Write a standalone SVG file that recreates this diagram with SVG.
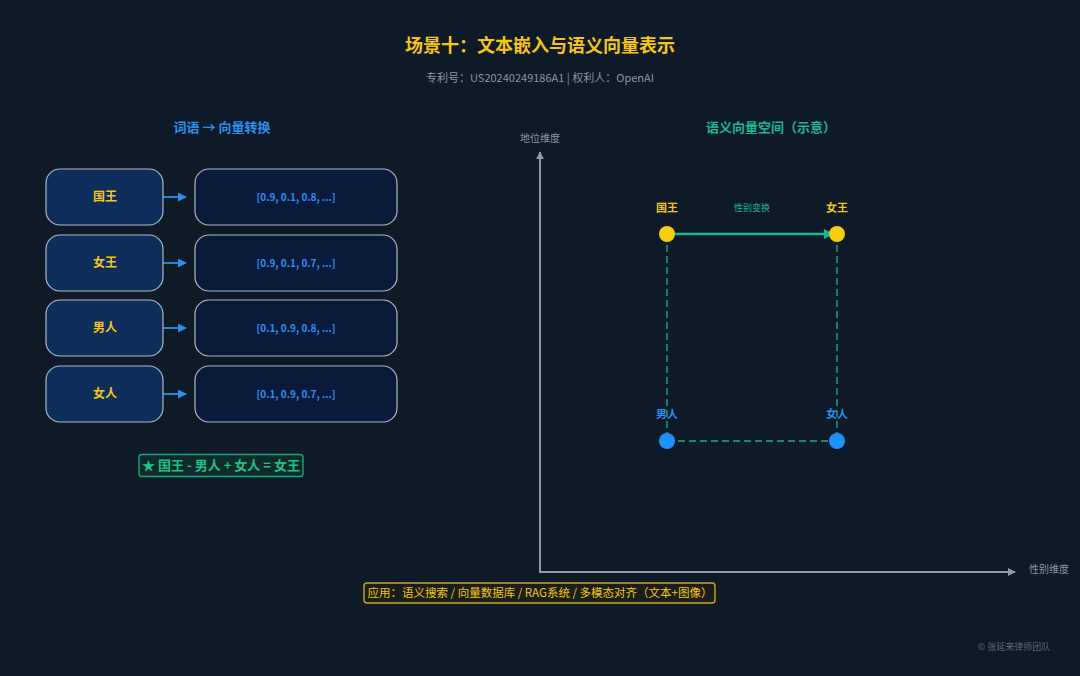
<svg xmlns="http://www.w3.org/2000/svg" width="1080" height="676" viewBox="0 0 1080 676">
<defs>
<style>
text{font-family:"Noto Sans CJK SC","Noto Sans",sans-serif;text-anchor:middle;}
.word{fill:#0d2d5a;stroke:#aab6c4;stroke-width:1.2;}
.vec{fill:#0a1a3a;stroke:#aab6c4;stroke-width:1.2;}
.wt{fill:#f5c518;font-size:12px;font-weight:700;}
.vt{fill:#2a8ff0;font-size:10px;font-weight:700;}
.conn{stroke:#2a8ff0;stroke-width:1.8;fill:none;}
.axis{stroke:#8a9ab0;stroke-width:2;fill:none;}
.dash{stroke:#178a70;stroke-width:1.8;stroke-dasharray:7 4;fill:none;}
.ax{fill:#8a95a5;font-size:10px;}
</style>
<marker id="ab" viewBox="0 0 10 10" refX="9" refY="5" markerWidth="5" markerHeight="5" orient="auto"><path d="M0,0L10,5L0,10z" fill="#2a8ff0"/></marker>
<marker id="ag" viewBox="0 0 10 10" refX="9" refY="5" markerWidth="4" markerHeight="4" orient="auto"><path d="M0,0L10,5L0,10z" fill="#17b890"/></marker>
<marker id="aa" viewBox="0 0 10 10" refX="9" refY="5" markerWidth="4" markerHeight="4" orient="auto"><path d="M0,0L10,5L0,10z" fill="#8a9ab0"/></marker>
</defs>
<rect width="1080" height="676" fill="#0f1a28"/>
<text x="540" y="52" style="fill:#f5c518;font-size:18px;font-weight:700">场景十：文本嵌入与语义向量表示</text>
<text x="540" y="82" style="fill:#8a95a5;font-size:11px">专利号：US20240249186A1 | 权利人：OpenAI</text>
<text x="222" y="132" style="fill:#2a8ff0;font-size:13px;font-weight:700">词语 → 向量转换</text>
<text x="771" y="132" style="fill:#17b890;font-size:13px;font-weight:700">语义向量空间（示意）</text>

<g id="connectors">
<line class="conn" x1="160" y1="197" x2="186" y2="197" marker-end="url(#ab)"/>
<line class="conn" x1="160" y1="263" x2="186" y2="263" marker-end="url(#ab)"/>
<line class="conn" x1="160" y1="328" x2="186" y2="328" marker-end="url(#ab)"/>
<line class="conn" x1="160" y1="394" x2="186" y2="394" marker-end="url(#ab)"/>
<line class="axis" x1="540" y1="572" x2="540" y2="152" marker-end="url(#aa)"/>
<line class="axis" x1="539" y1="572" x2="1015" y2="572" marker-end="url(#aa)"/>
<line class="dash" x1="667" y1="234" x2="667" y2="441"/>
<line class="dash" x1="837" y1="234" x2="837" y2="441"/>
<line class="dash" x1="667" y1="441" x2="837" y2="441"/>
<line x1="667" y1="234" x2="833" y2="234" stroke="#17b890" stroke-width="2.5" marker-end="url(#ag)"/>
</g>

<g id="w1"><rect class="word" x="46" y="169" width="117" height="56" rx="14"/><text class="wt" x="105" y="201">国王</text></g>
<g id="v1"><rect class="vec" x="195" y="169" width="202" height="56" rx="14"/><text class="vt" x="296" y="201">[0.9, 0.1, 0.8, ...]</text></g>
<g id="w2"><rect class="word" x="46" y="235" width="117" height="56" rx="14"/><text class="wt" x="105" y="267">女王</text></g>
<g id="v2"><rect class="vec" x="195" y="235" width="202" height="56" rx="14"/><text class="vt" x="296" y="267">[0.9, 0.1, 0.7, ...]</text></g>
<g id="w3"><rect class="word" x="46" y="300" width="117" height="56" rx="14"/><text class="wt" x="105" y="332">男人</text></g>
<g id="v3"><rect class="vec" x="195" y="300" width="202" height="56" rx="14"/><text class="vt" x="296" y="332">[0.1, 0.9, 0.8, ...]</text></g>
<g id="w4"><rect class="word" x="46" y="366" width="117" height="56" rx="14"/><text class="wt" x="105" y="398">女人</text></g>
<g id="v4"><rect class="vec" x="195" y="366" width="202" height="56" rx="14"/><text class="vt" x="296" y="398">[0.1, 0.9, 0.7, ...]</text></g>

<g id="formula"><rect x="139" y="454.500" width="164" height="22" rx="3" fill="#0f2a2c" stroke="#18a878" stroke-width="1.4"/><text x="221" y="470" style="fill:#20c080;font-size:13px;font-weight:700">★ 国王 - 男人 + 女人 = 女王</text></g>

<text class="ax" x="540" y="142">地位维度</text>
<text class="ax" x="1049" y="573">性别维度</text>

<g id="p-king"><circle cx="667" cy="234" r="8" fill="#f5d00a"/><text x="667" y="212" style="fill:#f5c518;font-size:11px;font-weight:700">国王</text></g>
<g id="p-queen"><circle cx="837" cy="234" r="8" fill="#f5d00a"/><text x="837" y="212" style="fill:#f5c518;font-size:11px;font-weight:700">女王</text></g>
<g id="p-man"><circle cx="667" cy="441" r="8" fill="#1e90ff"/><text x="667" y="418" style="fill:#2a8ff0;font-size:11px;font-weight:700">男人</text></g>
<g id="p-woman"><circle cx="837" cy="441" r="8" fill="#1e90ff"/><text x="837" y="418" style="fill:#2a8ff0;font-size:11px;font-weight:700">女人</text></g>
<text x="752" y="211" style="fill:#17b890;font-size:9px">性别变换</text>

<g id="app"><rect x="364" y="583" width="351" height="20" rx="3" fill="#1a1e18" stroke="#c8a818" stroke-width="1.4"/><text x="540" y="597" style="fill:#f5c518;font-size:11.5px">应用：语义搜索 / 向量数据库 / RAG系统 / 多模态对齐（文本+图像）</text></g>
<text x="1014" y="650" style="fill:#5a6678;font-size:9px">© 张延来律师团队</text>
</svg>
